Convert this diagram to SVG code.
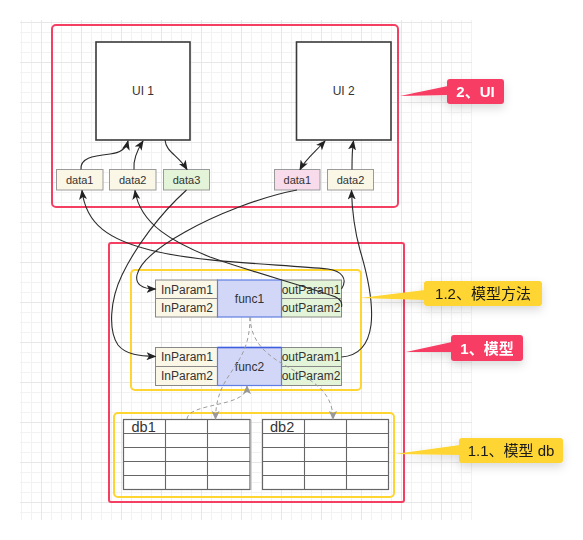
<svg xmlns="http://www.w3.org/2000/svg" width="583" height="540" viewBox="0 0 583 540">
<style>
text{font-family:"Liberation Sans","Noto Sans CJK SC",sans-serif;fill:#333}
.ui{fill:#fff;stroke:#3a3a3a;stroke-width:1.6}
.uit{font-size:12px;text-anchor:middle}
.dat{stroke:#9a9a9a;stroke-width:1}
.dt{font-size:11px;text-anchor:middle}
.cream{fill:#fbf7e7}
.green{fill:#e3f4d8}
.pink{fill:#f8dcec}
.par{stroke:#888;stroke-width:1}
.pt{font-size:12px;text-anchor:middle}
.fn{fill:#d2d7f8;stroke:#5f7de2;stroke-width:1.2}
.red{fill:none;stroke:#f43f63;stroke-width:2}
.yel{fill:none;stroke:#fed531;stroke-width:2}
.tbl{fill:#fff;stroke:#666;stroke-width:1.2}
.tl{stroke:#666;stroke-width:1.1}
.con{fill:none;stroke:#2b2b2b;stroke-width:1.1}
.dash{fill:none;stroke:#9c9c9c;stroke-width:1;stroke-dasharray:4 3}
.ct{font-size:15px;text-anchor:middle}
</style>
<defs>
<pattern id="grid" x="1" y="22" width="40" height="40" patternUnits="userSpaceOnUse">
<path d="M10.5,0V40M20.5,0V40M30.5,0V40M0,10.5H40M0,20.5H40M0,30.5H40" stroke="#f2f2f2" stroke-width="1" fill="none"/>
<path d="M0.5,0V40M0,0.5H40" stroke="#e7e7e7" stroke-width="1" fill="none"/>
</pattern>
<marker id="ar" markerUnits="userSpaceOnUse" markerWidth="10" markerHeight="8" refX="9" refY="4" orient="auto-start-reverse">
<path d="M0,0 L10,4 L0,8 L2.5,4 z" fill="#222"/>
</marker>
<marker id="ag" markerUnits="userSpaceOnUse" markerWidth="9" markerHeight="8" refX="8" refY="4" orient="auto">
<path d="M0,0 L9,4 L0,8 L2,4 z" fill="#999"/>
</marker>
<filter id="sh" x="-30%" y="-40%" width="160%" height="200%">
<feDropShadow dx="0" dy="4" stdDeviation="5" flood-color="#000" flood-opacity="0.15"/>
</filter>
</defs>
<rect x="20" y="20" width="452" height="500" fill="url(#grid)"/>

<g id="ui-area">
<rect class="red" x="52" y="25" width="346" height="182" rx="4"/>
</g>
<g id="model-area">
<rect class="red" x="109" y="243" width="295" height="259" rx="2"/>
</g>
<g id="method-area">
<rect class="yel" x="131" y="270" width="230" height="120" rx="4"/>
</g>
<g id="db-area">
<rect class="yel" x="114" y="413" width="280" height="84" rx="4"/>
</g>

<g id="ui1">
<rect class="ui" x="96" y="42" width="94" height="98"/>
<text class="uit" x="143" y="95">UI 1</text>
</g>
<g id="ui2">
<rect class="ui" x="296.5" y="42" width="94.5" height="98"/>
<text class="uit" x="343.7" y="95">UI 2</text>
</g>

<g id="ui1-data1"><rect class="dat cream" x="56.5" y="169.5" width="46.5" height="20.5"/><text class="dt" x="79.7" y="184">data1</text></g>
<g id="ui1-data2"><rect class="dat cream" x="109.5" y="169.5" width="46.5" height="20.5"/><text class="dt" x="132.7" y="184">data2</text></g>
<g id="ui1-data3"><rect class="dat green" x="163.5" y="169.5" width="46" height="20.5"/><text class="dt" x="186.5" y="184">data3</text></g>
<g id="ui2-data1"><rect class="dat pink" x="274.5" y="169.5" width="45.5" height="20.5"/><text class="dt" x="297.3" y="184">data1</text></g>
<g id="ui2-data2"><rect class="dat cream" x="327.5" y="169.5" width="46" height="20.5"/><text class="dt" x="350.5" y="184">data2</text></g>

<g id="func1">
<rect class="par cream" x="155.5" y="280" width="62" height="18.5"/>
<rect class="par cream" x="155.5" y="298.5" width="62" height="18.5"/>
<rect class="par green" x="281.5" y="280" width="60" height="18.5"/>
<rect class="par green" x="281.5" y="298.5" width="60" height="18.5"/>
<rect class="fn" x="217.5" y="280" width="64" height="37"/>
<text class="pt" x="187" y="293.5">InParam1</text>
<text class="pt" x="187" y="312">InParam2</text>
<text class="pt" x="311" y="293.5">outParam1</text>
<text class="pt" x="311" y="312">outParam2</text>
<text class="pt" x="249.5" y="303">func1</text>
</g>
<g id="func2">
<rect class="par cream" x="155.5" y="347.5" width="62" height="19"/>
<rect class="par cream" x="155.5" y="366.5" width="62" height="19"/>
<rect class="par green" x="281.5" y="347.5" width="60" height="19"/>
<rect class="par green" x="281.5" y="366.5" width="60" height="19"/>
<rect class="fn" x="217.5" y="347.5" width="64" height="38"/>
<path d="M217.5,347.5H281.5" stroke="#3f5fe0" stroke-width="1.4"/>
<text class="pt" x="187" y="361">InParam1</text>
<text class="pt" x="187" y="380">InParam2</text>
<text class="pt" x="311" y="361">outParam1</text>
<text class="pt" x="311" y="380">outParam2</text>
<text class="pt" x="249.5" y="371">func2</text>
</g>

<g id="db1">
<rect class="tbl" x="123.5" y="419.5" width="126.5" height="70"/>
<path class="tl" d="M165.5,419.5V489.5M207.5,419.5V489.5M123.5,433.5H250M123.5,447.5H250M123.5,461.5H250M123.5,475.5H250"/>
<path d="M251,420V490" stroke="#bbb" stroke-width="1"/>
<text x="131.5" y="431.5" style="font-size:14.5px">db1</text>
</g>
<g id="db2">
<rect class="tbl" x="262.5" y="419.5" width="126" height="70"/>
<path class="tl" d="M304.5,419.5V489.5M346.5,419.5V489.5M262.5,433.5H388.5M262.5,447.5H388.5M262.5,461.5H388.5M262.5,475.5H388.5"/>
<text x="270" y="431.5" style="font-size:14.5px">db2</text>
</g>

<g id="connectors">
<path class="con" marker-end="url(#ar)" d="M81,169.5 C80,158 92,156 110,154 C120,153 126,149 128,141"/>
<path class="con" marker-end="url(#ar)" d="M134,169.5 C133,160 136,152 143,141"/>
<path class="con" marker-end="url(#ar)" d="M165,140 C166,152 178,155 187,169.5"/>
<path class="con" marker-start="url(#ar)" marker-end="url(#ar)" d="M300,169.5 C305,160 315,152 325,141"/>
<path class="con" marker-end="url(#ar)" d="M352,169.5 C352,160 352,150 353.5,141"/>
<path class="con" marker-end="url(#ar)" d="M341.5,289 C348,279 342,271 328,269 C280,264 200,263 150,250 C110,240 86,225 82,190.5"/>
<path class="con" marker-end="url(#ar)" d="M341.5,307 C343,300 338,297 330,295 C290,282 240,268 210,257 C175,243 140,225 135,190.5"/>
<path class="con" marker-end="url(#ar)" d="M186.5,190 C160,214 136,246 122,275 C110,300 108,330 118,345 C126,355 140,356 155.5,356.5"/>
<path class="con" marker-end="url(#ar)" d="M297,190 C260,197 215,215 185,232 C160,246 140,262 137,275 C135,284 142,289 155.5,289"/>
<path class="con" marker-end="url(#ar)" d="M341.5,357 C356,356 368,348 371,325 C374,300 366,270 360,250 C355,232 352,210 351.5,190.5"/>
<path class="dash" marker-end="url(#ag)" d="M250,317 C250,370 216,370 215.5,419"/>
<path class="dash" marker-end="url(#ag)" d="M250,317 C252,375 333,365 333,419"/>
<path class="dash" marker-end="url(#ag)" d="M187,419 C189,402 247,408 247,386"/>
</g>

<g id="callout-ui" filter="url(#sh)">
<path d="M400,96 L448,86 L448,95 z" fill="#f73c63"/>
<rect x="447" y="79" width="57" height="25" rx="3" fill="#f73c63"/>
<text class="ct" x="475.5" y="97" style="fill:#fff;font-weight:bold">2、UI</text>
</g>
<g id="callout-method" filter="url(#sh)">
<path d="M360,298 L425,290 L425,300 z" fill="#fed530"/>
<rect x="424" y="281" width="118" height="25" rx="3" fill="#fed530"/>
<text class="ct" x="483" y="299" style="fill:#1a1a1a">1.2、模型方法</text>
</g>
<g id="callout-model" filter="url(#sh)">
<path d="M406,352 L452,342 L452,352 z" fill="#f73c63"/>
<rect x="451" y="335" width="72" height="26" rx="3" fill="#f73c63"/>
<text class="ct" x="487" y="353.5" style="fill:#fff;font-weight:bold">1、模型</text>
</g>
<g id="callout-db" filter="url(#sh)">
<path d="M395,454 L460,445 L460,455 z" fill="#fed530"/>
<rect x="459" y="438" width="104" height="25" rx="3" fill="#fed530"/>
<text class="ct" x="511" y="456" style="fill:#1a1a1a">1.1、模型 db</text>
</g>
</svg>
